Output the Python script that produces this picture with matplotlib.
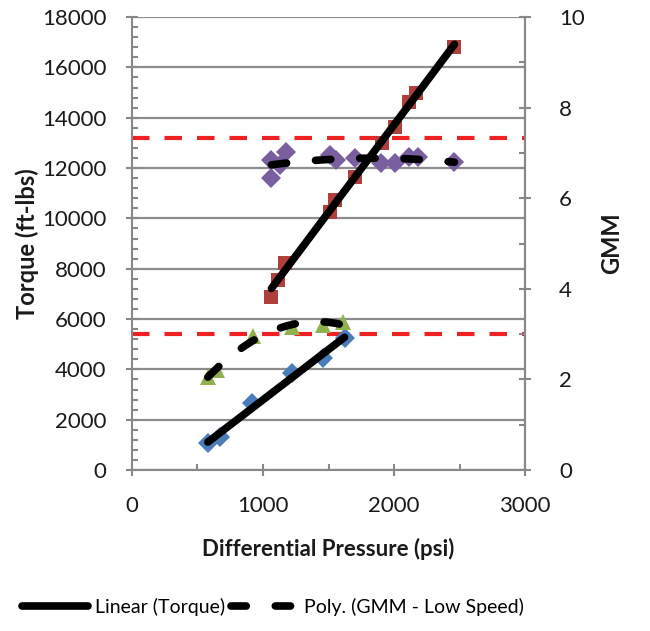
import matplotlib
matplotlib.use('Agg')

import matplotlib.pyplot as plt
from matplotlib.ticker import MultipleLocator
import numpy as np

plt.rcParams['font.family'] = ['Lato', 'DejaVu Sans']

# low speed runs
lo_press = [579, 670, 914, 1219, 1455, 1622]
lo_torque = [1073, 1311, 2663, 3855, 4451, 5246]
lo_gmm_press = [579, 648, 920, 1219, 1455, 1607]
lo_gmm = [2.05, 2.2, 2.97, 3.15, 3.2, 3.27]

# high speed runs
hi_press = [1064, 1114, 1165, 1508, 1546, 1698, 1910, 2003, 2117, 2168, 2460]
hi_torque = [6888, 7551, 8214, 10265, 10730, 11656, 12983, 13643, 14636, 14970, 16822]
hi_gmm_press = [1064, 1064, 1127, 1178, 1508, 1559, 1698, 1902, 2003, 2117, 2181, 2460]
hi_gmm = [6.84, 6.44, 6.73, 7.03, 6.95, 6.84, 6.88, 6.77, 6.77, 6.92, 6.92, 6.81]

# torque limits (red dashed)
limits = [13200, 5400]

c_blue = '#4a7ebb'
c_red = '#b0403d'
c_green = '#8fb14e'
c_purple = '#7a5fa0'

fig = plt.figure(figsize=(6.5, 6.31), dpi=100)
ax = fig.add_axes([0.203, 0.255, 0.605, 0.718])
ax2 = ax.twinx()

ax.set_xlim(0, 3000)
ax.set_ylim(0, 18000)
ax2.set_ylim(0, 10)

ax.yaxis.grid(True, color='#8c8c8c', lw=1.6, zorder=0)
ax.set_axisbelow(True)

for y in limits:
    ax.axhline(y, color='#ee2222', lw=3, dashes=(4.2, 3.6), zorder=1)

ax.plot(lo_press, lo_torque, 'D', color=c_blue, ms=10, mew=0, zorder=2)
ax.plot(hi_press, hi_torque, 's', color=c_red, ms=10, mew=0, zorder=2)
ax2.plot(lo_gmm_press, lo_gmm, '^', color=c_green, ms=11, mew=0, zorder=2)
ax2.plot(hi_gmm_press, hi_gmm, 'D', color=c_purple, ms=10, mew=0, zorder=2)

# trendlines
def trend(x, y, order):
    p = np.polyfit(x, y, order)
    xs = np.linspace(min(x), max(x), 100)
    return xs, np.polyval(p, xs)

xs, ys = trend(lo_press, lo_torque, 1)
lin1, = ax.plot(xs, ys, color='black', lw=5.5, solid_capstyle='round', zorder=3)
xs, ys = trend(hi_press, hi_torque, 1)
ax.plot(xs, ys, color='black', lw=5.5, solid_capstyle='round', zorder=3)

xs, ys = trend(lo_gmm_press, lo_gmm, 2)
poly1, = ax2.plot(xs, ys, color='black', lw=5.5, dashes=(2, 3.8),
                  dash_capstyle='round', zorder=3)
xs, ys = trend(hi_gmm_press, hi_gmm, 2)
ax2.plot(xs, ys, color='black', lw=5.5, dashes=(2, 3.8),
         dash_capstyle='round', zorder=3)

# axes styling
for a in (ax, ax2):
    a.spines['top'].set_visible(False)
    for s in a.spines.values():
        s.set_color('#888888')
        s.set_linewidth(1.5)
ax2.spines['left'].set_visible(False)
ax2.spines['bottom'].set_visible(False)

ax.xaxis.set_major_locator(MultipleLocator(1000))
ax.xaxis.set_minor_locator(MultipleLocator(500))
ax.yaxis.set_major_locator(MultipleLocator(2000))
ax.yaxis.set_minor_locator(MultipleLocator(400))
ax2.yaxis.set_major_locator(MultipleLocator(2))
ax2.yaxis.set_minor_locator(MultipleLocator(1))

ax.tick_params(axis='x', which='major', direction='inout', length=9, width=1.5,
               color='#888888', labelsize=16, pad=14, labelcolor='#1a1a1a')
ax.tick_params(axis='x', which='minor', direction='in', length=4, width=1.5,
               color='#888888')
ax.tick_params(axis='y', which='major', direction='inout', length=9, width=1.5,
               color='#888888', labelsize=16, pad=14, labelcolor='#1a1a1a')
ax.tick_params(axis='y', which='minor', direction='in', length=4, width=1.5,
               color='#888888')
ax2.tick_params(axis='y', which='major', direction='inout', length=9, width=1.5,
                color='#888888', labelsize=16, pad=20, labelcolor='#1a1a1a')
ax2.tick_params(axis='y', which='minor', direction='in', length=4, width=1.5,
                color='#888888')

ax.set_xlabel('Differential Pressure (psi)', fontsize=16, fontweight='bold',
              color='#1a1a1a', labelpad=16)
ax.set_ylabel('Torque (ft-lbs)', fontsize=17, fontweight='bold',
              color='#1a1a1a', labelpad=2)
ax2.set_ylabel('GMM', fontsize=17, fontweight='bold', color='#1a1a1a', labelpad=11)

fig.legend([lin1, poly1], ['Linear (Torque)', 'Poly. (GMM - Low Speed)'],
           loc='center', bbox_to_anchor=(0.42, 0.038), ncol=2, frameon=False,
           fontsize=14, handlelength=3.4, handletextpad=0.35, columnspacing=0.3)

plt.savefig('out.png', dpi=100)
